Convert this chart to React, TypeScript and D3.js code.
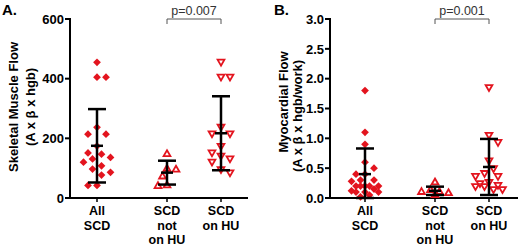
import React from "react";
import * as d3 from "d3";

// ---------- data ----------
const categories = ["All SCD", "SCD not on HU", "SCD on HU"];
const categoryLines = [["All", "SCD"], ["SCD", "not", "on HU"], ["SCD", "on HU"]];

const skeletalAll = [455, 405, 405, 237, 214, 214, 174, 151, 147, 136, 131, 120, 108, 97, 86, 77, 42, 42];
const skeletalNotHU = [147, 98, 95, 72, 42, 40];
const skeletalOnHU = [457, 407, 407, 239, 217, 217, 175, 153, 142, 133, 122, 97, 86];
const skeletalMean = [175, 85, 217];
const skeletalSD = [123, 40, 124];

const myoAll = [1.8, 1.1, 0.9, 0.6, 0.5, 0.4, 0.4, 0.3, 0.3, 0.28, 0.2, 0.2, 0.2, 0.2, 0.2, 0.15, 0.12, 0.1, 0.1, 0.1, 0.05, 0.02];
const myoNotHU = [0.26, 0.13, 0.1, 0.1, 0.08, 0.05];
const myoOnHU = [1.86, 1.06, 0.94, 0.63, 0.5, 0.42, 0.37, 0.37, 0.27, 0.25, 0.22, 0.2, 0.2, 0.15, 0.15];
const myoMean = [0.4, 0.12, 0.52];
const myoSD = [0.43, 0.07, 0.47];

const skeletalTicks = [0, 200, 400, 600];
const myoTicks = [0, 0.5, 1.0, 1.5, 2.0, 2.5, 3.0];

// ---------- styles ----------
const RED = "#e3141e";
const FONT = "'Liberation Sans', Arial, sans-serif";

type Panel = {
  letter: string;
  letterX: number;
  axisX: number;
  axisEnd: number;
  catX: number[];
  yMax: number;
  ticks: number[];
  tickFmt: (v: number) => string;
  groups: number[][];
  means: number[];
  sds: number[];
  title1: string;
  title2: string;
  t1x: number;
  t2x: number;
  t1y: number;
  t2y: number;
  pText: string;
};

function swarm(values: number[], y: (v: number) => number, cx: number, D: number, step: number, maxOff: number) {
  const placed: { x: number; y: number; v: number }[] = [];
  const sorted = [...values].sort((a, b) => b - a);
  sorted.forEach((v, i) => {
    const py = y(v);
    const cands: number[] = [0];
    for (let k = 1; k * step <= maxOff; k++) {
      if (i % 2 === 0) cands.push(k * step, -k * step);
      else cands.push(-k * step, k * step);
    }
    let best = cands[0];
    let bestD = -1;
    for (const dx of cands) {
      const px = cx + dx;
      const md = placed.length ? Math.min(...placed.map((p) => Math.hypot(p.x - px, p.y - py))) : Infinity;
      if (md >= D) {
        best = dx;
        bestD = Infinity;
        break;
      }
      if (md > bestD) {
        bestD = md;
        best = dx;
      }
    }
    placed.push({ x: cx + best, y: py, v });
  });
  return placed;
}

const diamond = d3.symbol().type(d3.symbolSquare).size(30)()!;
const triangle = d3.symbol().type(d3.symbolTriangle).size(20)()!;

function PanelView({ p }: { p: Panel }) {
  const y = d3.scaleLinear().domain([0, p.yMax]).range([198, 19]);
  const x = d3.scaleOrdinal<string, number>().domain(categories).range(p.catX);
  const bottom = 198;
  return (
    <g>
      <text x={p.letterX} y={15} fontFamily={FONT} fontWeight="bold" fontSize={15}>{p.letter}</text>
      {/* y title */}
      <text transform={`translate(${p.t1x},${p.t1y}) rotate(-90)`} textAnchor="middle" fontFamily={FONT} fontWeight="bold" fontSize={13}>{p.title1}</text>
      <text transform={`translate(${p.t2x},${p.t2y}) rotate(-90)`} textAnchor="middle" fontFamily={FONT} fontWeight="bold" fontSize={13}>{p.title2}</text>
      {/* axes */}
      <line x1={p.axisX} x2={p.axisX} y1={y(p.yMax) - 1} y2={bottom + 1} stroke="#000" strokeWidth={2} />
      <line x1={p.axisX - 1} x2={p.axisEnd} y1={bottom} y2={bottom} stroke="#000" strokeWidth={2} />
      {p.ticks.map((t) => (
        <g key={t}>
          <line x1={p.axisX - 5} x2={p.axisX} y1={y(t)} y2={y(t)} stroke="#000" strokeWidth={2} />
          <text x={p.axisX - 6} y={y(t) + 4.7} textAnchor="end" fontFamily={FONT} fontWeight="bold" fontSize={13}>{p.tickFmt(t)}</text>
        </g>
      ))}
      {categories.map((c, i) => (
        <g key={c}>
          <line x1={x(c)} x2={x(c)} y1={bottom} y2={bottom + 4} stroke="#000" strokeWidth={1.5} />
          {categoryLines[i].map((l, j) => (
            <text key={j} x={x(c)} y={215 + j * 14.5} textAnchor="middle" fontFamily={FONT} fontWeight="bold" fontSize={12.5}>{l}</text>
          ))}
        </g>
      ))}
      {/* significance bracket */}
      <path d={`M${x(categories[1])},24V19H${x(categories[2])}V24`} fill="none" stroke="#555" strokeWidth={1} />
      <text x={(x(categories[1]) + x(categories[2])) / 2} y={15} textAnchor="middle" fontFamily={FONT} fontSize={12.5} fill="#333">{p.pText}</text>
      {/* points */}
      {p.groups.map((vals, gi) => {
        const cx = x(categories[gi]);
        const pts = swarm(vals, y, cx, 8.5, 4.5, 14);
        return pts.map((pt, k) =>
          gi === 0 ? (
            <path key={`${gi}-${k}`} d={diamond} transform={`translate(${pt.x},${pt.y}) rotate(45)`} fill={RED} />
          ) : (
            <path key={`${gi}-${k}`} d={triangle} transform={`translate(${pt.x},${pt.y}) rotate(${gi === 2 ? 180 : 0})`} fill="#fff" stroke={RED} strokeWidth={1.8} />
          )
        );
      })}
      {/* mean +/- SD */}
      {p.means.map((m, gi) => {
        const cx = x(categories[gi]);
        const top = y(m + p.sds[gi]);
        const bot = y(Math.max(0, m - p.sds[gi]));
        const my = y(m);
        return (
          <g key={gi} stroke="#000" strokeWidth={2.5}>
            <line x1={cx} x2={cx} y1={top} y2={bot} />
            <line x1={cx - 9} x2={cx + 9} y1={top} y2={top} />
            <line x1={cx - 9} x2={cx + 9} y1={bot} y2={bot} />
            <line x1={cx - 6} x2={cx + 6} y1={my} y2={my} />
          </g>
        );
      })}
    </g>
  );
}

const panelA: Panel = {
  letter: "A.",
  letterX: 2,
  axisX: 70,
  axisEnd: 248,
  catX: [97, 167, 221],
  yMax: 600,
  ticks: skeletalTicks,
  tickFmt: (v) => d3.format("d")(v),
  groups: [skeletalAll, skeletalNotHU, skeletalOnHU],
  means: skeletalMean,
  sds: skeletalSD,
  title1: "Skeletal Muscle Flow",
  title2: "(A x β x hgb)",
  t1x: 18,
  t2x: 35,
  t1y: 107,
  t2y: 107,
  pText: "p=0.007",
};

const panelB: Panel = {
  letter: "B.",
  letterX: 274,
  axisX: 330,
  axisEnd: 518,
  catX: [365, 435, 489],
  yMax: 3,
  ticks: myoTicks,
  tickFmt: (v) => d3.format(".1f")(v),
  groups: [myoAll, myoNotHU, myoOnHU],
  means: myoMean,
  sds: myoSD,
  title1: "Myocardial Flow",
  title2: "(A x β x hgb/work)",
  t1x: 288,
  t2x: 302,
  t1y: 102,
  t2y: 116,
  pText: "p=0.001",
};

export default function App() {
  return (
    <svg width={520} height={246} style={{ position: "absolute", left: 0, top: 0, background: "#fff" }}>
      <rect width={520} height={246} fill="#fff" />
      <PanelView p={panelA} />
      <PanelView p={panelB} />
    </svg>
  );
}
